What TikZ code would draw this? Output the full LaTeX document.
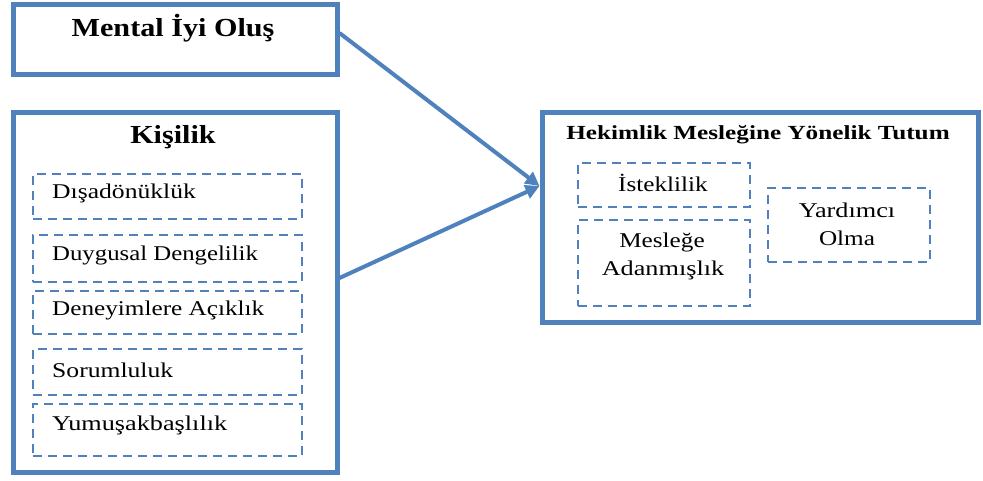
\documentclass[tikz,border=0pt]{standalone}
\usepackage{fontspec}
\setmainfont{Liberation Serif}
\usepackage{graphicx}
\usetikzlibrary{arrows.meta}
\definecolor{obl}{HTML}{4F81BD}
\newcommand{\hstr}[2]{\scalebox{#1}[1]{#2}}
\tikzset{
  mainbox/.style={draw=obl, line width=5pt, rectangle, inner sep=0pt},
  dashbox/.style={draw=obl, line width=1.8pt, dash pattern=on 9pt off 6pt, rectangle, inner sep=0pt},
  bigtitle/.style={font=\bfseries\fontsize{26}{28}\selectfont, inner sep=0pt},
  midtitle/.style={font=\bfseries\fontsize{20}{22}\selectfont, inner sep=0pt},
  itemtxt/.style={font=\fontsize{21}{23}\selectfont, inner sep=0pt},
  conn/.style={draw=obl, line width=4pt, -{Triangle[length=14pt,width=14pt]}}
}
\begin{document}
\begin{tikzpicture}[x=1pt,y=-1pt]
\useasboundingbox (0,0) rectangle (983,480);
% main boxes
\node[mainbox, minimum width=324pt, minimum height=70pt] (mental) at (175,39) {};
\node[mainbox, minimum width=324pt, minimum height=360pt] (kisilik) at (175,292) {};
\node[mainbox, minimum width=436pt, minimum height=210pt] (hekim) at (760,217) {};
% titles
\node[bigtitle] (tmental) at (173,28) {\hstr{1.16}{Mental İyi Oluş}};
\node[bigtitle] (tkisilik) at (173,137) {\hstr{1.16}{Kişilik}};
\node[midtitle] (thekim) at (758,135) {\hstr{1.26}{Hekimlik Mesleğine Yönelik Tutum}};
% left dashed boxes
\node[dashbox, minimum width=269pt, minimum height=45pt] (d1) at (167.5,196.5) {};
\node[dashbox, minimum width=269pt, minimum height=47pt] (d2) at (167.5,258.5) {};
\node[dashbox, minimum width=269pt, minimum height=43pt] (d3) at (167.5,312.5) {};
\node[dashbox, minimum width=269pt, minimum height=46pt] (d4) at (167.5,372) {};
\node[dashbox, minimum width=269pt, minimum height=52pt] (d5) at (167.5,430) {};
\node[itemtxt, anchor=west] (t1) at (52,193) {\hstr{1.22}{Dışadönüklük}};
\node[itemtxt, anchor=west] (t2) at (52,255) {\hstr{1.18}{Duygusal Dengelilik}};
\node[itemtxt, anchor=west] (t3) at (52,310) {\hstr{1.2}{Deneyimlere Açıklık}};
\node[itemtxt, anchor=west] (t4) at (52,370) {\hstr{1.22}{Sorumluluk}};
\node[itemtxt, anchor=west] (t5) at (52,425) {\hstr{1.25}{Yumuşakbaşlılık}};
% right dashed boxes
\node[dashbox, minimum width=172pt, minimum height=44pt] (r1) at (664,185) {};
\node[dashbox, minimum width=172pt, minimum height=86pt] (r2) at (664,263) {};
\node[dashbox, minimum width=162pt, minimum height=74pt] (r3) at (849,225) {};
\node[itemtxt] (rt1) at (663,183) {\hstr{1.2}{İsteklilik}};
\node[itemtxt] (rt2a) at (662,242) {\hstr{1.2}{Mesleğe}};
\node[itemtxt] (rt2b) at (663,270) {\hstr{1.25}{Adanmışlık}};
\node[itemtxt] (rt3a) at (847,210) {\hstr{1.25}{Yardımcı}};
\node[itemtxt] (rt3b) at (847,238) {\hstr{1.2}{Olma}};
% connectors
\draw[conn] ([yshift=6pt]mental.east) -- ([yshift=31pt]hekim.west);
\draw[conn] ([yshift=14pt]kisilik.east) -- ([yshift=31pt]hekim.west);
\end{tikzpicture}
\end{document}
